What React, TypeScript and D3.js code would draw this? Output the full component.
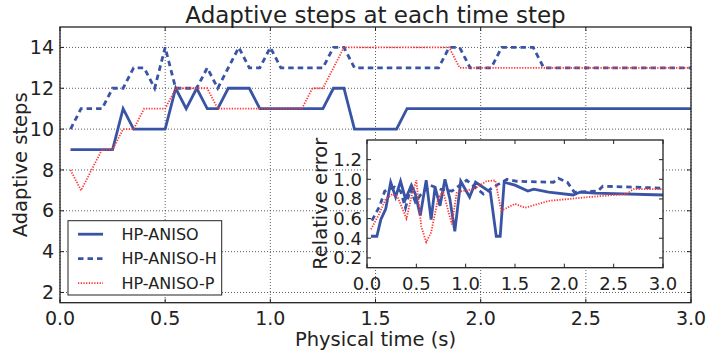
import React from "react";
import * as d3 from "d3";

const W = 709;
const H = 353;

// Adaptive steps per time step (main axes), breakpoints of each series
const anisoT = [0.05, 0.25, 0.3, 0.35, 0.5, 0.55, 0.6, 0.65, 0.7, 0.75, 0.8, 0.9, 0.95, 1.25, 1.3, 1.35, 1.4, 1.6, 1.65, 3.0];
const anisoV = [9, 9, 11, 10, 10, 12, 11, 12, 11, 11, 12, 12, 11, 11, 12, 12, 10, 10, 11, 11];

const anisoHT = [0.05, 0.1, 0.2, 0.25, 0.3, 0.35, 0.4, 0.45, 0.5, 0.55, 0.65, 0.7, 0.75, 0.85, 0.9, 0.95, 1.0, 1.05, 1.25, 1.3, 1.35, 1.4, 1.8, 1.85, 1.9, 1.95, 2.05, 2.1, 2.25, 2.3, 3.0];
const anisoHV = [10, 11, 11, 12, 12, 13, 13, 12, 14, 12, 12, 13, 12, 14, 13, 13, 14, 13, 13, 14, 14, 13, 13, 14, 14, 13, 13, 14, 14, 13, 13];

const anisoPT = [0.05, 0.1, 0.15, 0.2, 0.25, 0.3, 0.35, 0.4, 0.5, 0.55, 0.7, 0.75, 1.15, 1.2, 1.25, 1.3, 1.35, 1.85, 1.9, 3.0];
const anisoPV = [8, 7, 8, 9, 9, 10, 10, 11, 11, 12, 12, 11, 11, 12, 12, 13, 14, 14, 13, 13];

// Relative error (inset axes)
const errT = [0.04, 0.1, 0.14, 0.19, 0.24, 0.29, 0.34, 0.39, 0.45, 0.49, 0.54, 0.6, 0.65, 0.69, 0.74, 0.79, 0.84, 0.89, 0.95, 1.04, 1.1, 1.25, 1.31, 1.35, 1.39, 1.5, 1.63, 1.69, 1.84, 2.09, 2.16, 2.31, 3.0];
const errV = [0.42, 0.42, 0.59, 0.7, 0.97, 0.82, 0.98, 0.8, 0.94, 0.85, 0.63, 0.99, 0.59, 0.92, 0.73, 1.0, 0.8, 0.47, 0.98, 0.82, 0.97, 0.87, 0.42, 0.42, 0.97, 0.94, 0.88, 0.9, 0.87, 0.84, 0.87, 0.86, 0.84];

const errHT = [0.05, 0.13, 0.18, 0.28, 0.34, 0.39, 0.44, 0.49, 0.55, 0.64, 0.74, 0.86, 1.01, 1.18, 1.28, 1.42, 1.52, 1.89, 1.94, 2.03, 2.1, 2.14, 2.34, 2.39, 3.0];
const errHV = [0.58, 0.73, 0.88, 0.92, 0.88, 0.71, 0.9, 0.77, 0.85, 0.94, 0.9, 0.88, 0.99, 0.85, 0.92, 1.0, 0.98, 0.97, 1.01, 0.97, 0.87, 0.87, 0.88, 0.93, 0.91];

const errPT = [0.04, 0.12, 0.19, 0.26, 0.31, 0.4, 0.45, 0.5, 0.55, 0.6, 0.65, 0.72, 0.77, 0.86, 0.91, 1.08, 1.21, 1.3, 1.36, 1.5, 1.6, 1.84, 2.26, 2.63, 2.7, 3.0];
const errPV = [0.49, 0.64, 0.8, 0.85, 0.82, 0.6, 0.82, 0.99, 0.52, 0.36, 0.46, 0.8, 0.88, 0.54, 0.87, 0.9, 0.98, 0.99, 0.68, 0.75, 0.71, 0.78, 0.82, 0.85, 0.9, 0.9];

const xTicks = [0, 0.5, 1.0, 1.5, 2.0, 2.5, 3.0];
const yTicks = [2, 4, 6, 8, 10, 12, 14];
const insetYTicks = [0.2, 0.4, 0.6, 0.8, 1.0, 1.2];

const seriesNames = ["HP-ANISO", "HP-ANISO-H", "HP-ANISO-P"];

const BLUE = "#3a54a5";
const RED = "#ff3636";
const FONT = "DejaVu Sans, sans-serif";

const styles = [
  { stroke: BLUE, width: 2.8, dash: undefined as string | undefined },
  { stroke: BLUE, width: 2.8, dash: "5.5,4" },
  { stroke: RED, width: 1.8, dash: "1.3,1.4" },
];

function zip(t: number[], v: number[]): [number, number][] {
  return t.map((d, i) => [d, v[i]]);
}

export default function App() {
  const m = { l: 60, r: 691, t: 27, b: 302.7 };
  const x = d3.scaleLinear().domain([0, 3]).range([m.l, m.r]);
  const y = d3.scaleLinear().domain([1.5, 15]).range([m.b, m.t]);

  const ins = { l: 367, r: 663, t: 140, b: 267.7 };
  const ix = d3.scaleLinear().domain([0, 3]).range([ins.l, ins.r]);
  const iy = d3.scaleLinear().domain([0.1, 1.4]).range([ins.b, ins.t]);

  const line = d3.line<[number, number]>().x((d) => x(d[0])).y((d) => y(d[1]));
  const iline = d3.line<[number, number]>().x((d) => ix(d[0])).y((d) => iy(d[1]));

  const mainSeries = [zip(anisoT, anisoV), zip(anisoHT, anisoHV), zip(anisoPT, anisoPV)];
  const insetSeries = [zip(errT, errV), zip(errHT, errHV), zip(errPT, errPV)];

  const tickLen = 4;
  const legend = { x: 68, y: 220.7, w: 153.7, h: 74.3 };

  return (
    <svg
      width={W}
      height={H}
      viewBox={`0 0 ${W} ${H}`}
      style={{ position: "absolute", left: 0, top: 0, background: "#fff" }}
      fontFamily={FONT}
    >
      <rect x={0} y={0} width={W} height={H} fill="#fff" />

      {/* grid */}
      <g stroke="#333" strokeWidth={0.8} strokeDasharray="1,2">
        {xTicks.map((t) => (
          <line key={"gx" + t} x1={x(t)} x2={x(t)} y1={m.t} y2={m.b} />
        ))}
        {yTicks.map((t) => (
          <line key={"gy" + t} x1={m.l} x2={m.r} y1={y(t)} y2={y(t)} />
        ))}
      </g>

      {/* series */}
      <g fill="none">
        {mainSeries.map((s, i) => (
          <path
            key={"s" + i}
            d={line(s) || ""}
            stroke={styles[i].stroke}
            strokeWidth={styles[i].width}
            strokeDasharray={styles[i].dash}
          />
        ))}
      </g>

      {/* main ticks */}
      <g stroke="#222" strokeWidth={1}>
        {xTicks.map((t) => (
          <g key={"tx" + t}>
            <line x1={x(t)} x2={x(t)} y1={m.b} y2={m.b - tickLen} />
            <line x1={x(t)} x2={x(t)} y1={m.t} y2={m.t + tickLen} />
          </g>
        ))}
        {yTicks.map((t) => (
          <g key={"ty" + t}>
            <line x1={m.l} x2={m.l + tickLen} y1={y(t)} y2={y(t)} />
            <line x1={m.r} x2={m.r - tickLen} y1={y(t)} y2={y(t)} />
          </g>
        ))}
      </g>
      <rect x={m.l} y={m.t} width={m.r - m.l} height={m.b - m.t} fill="none" stroke="#222" strokeWidth={1.3} />

      {/* main tick labels */}
      <g fontSize={19} fill="#222">
        {xTicks.map((t) => (
          <text key={"lx" + t} x={x(t)} y={m.b + 22.5} textAnchor="middle">
            {t.toFixed(1)}
          </text>
        ))}
        {yTicks.map((t) => (
          <text key={"ly" + t} x={m.l - 6} y={y(t) + 6.6} textAnchor="end">
            {t}
          </text>
        ))}
      </g>

      {/* title and axis labels */}
      <text x={(m.l + m.r) / 2} y={23} textAnchor="middle" fontSize={23} fill="#222">
        Adaptive steps at each time step
      </text>
      <text x={(m.l + m.r) / 2} y={345.5} textAnchor="middle" fontSize={19.5} fill="#222">
        Physical time (s)
      </text>
      <text
        transform={`translate(26.5,${(m.t + m.b) / 2}) rotate(-90)`}
        textAnchor="middle"
        fontSize={19.5}
        fill="#222"
      >
        Adaptive steps
      </text>

      {/* legend */}
      <rect x={legend.x} y={legend.y} width={legend.w} height={legend.h} fill="#fff" stroke="#222" strokeWidth={1} />
      {seriesNames.map((n, i) => {
        const cy = legend.y + 13.5 + i * 24.5;
        return (
          <g key={"lg" + i}>
            <line
              x1={78}
              x2={103}
              y1={cy}
              y2={cy}
              stroke={styles[i].stroke}
              strokeWidth={styles[i].width}
              strokeDasharray={styles[i].dash}
            />
            <text x={121.5} y={cy + 5.7} fontSize={16} fill="#222">
              {n}
            </text>
          </g>
        );
      })}

      {/* inset */}
      <rect x={ins.l} y={ins.t} width={ins.r - ins.l} height={ins.b - ins.t} fill="#fff" />
      <g fill="none">
        {insetSeries.map((s, i) => (
          <path
            key={"is" + i}
            d={iline(s) || ""}
            stroke={styles[i].stroke}
            strokeWidth={styles[i].width}
            strokeDasharray={styles[i].dash}
          />
        ))}
      </g>
      <g stroke="#222" strokeWidth={1}>
        {xTicks.map((t) => (
          <g key={"itx" + t}>
            <line x1={ix(t)} x2={ix(t)} y1={ins.b} y2={ins.b - tickLen} />
            <line x1={ix(t)} x2={ix(t)} y1={ins.t} y2={ins.t + tickLen} />
          </g>
        ))}
        {insetYTicks.map((t) => (
          <g key={"ity" + t}>
            <line x1={ins.l} x2={ins.l + tickLen} y1={iy(t)} y2={iy(t)} />
            <line x1={ins.r} x2={ins.r - tickLen} y1={iy(t)} y2={iy(t)} />
          </g>
        ))}
      </g>
      <rect x={ins.l} y={ins.t} width={ins.r - ins.l} height={ins.b - ins.t} fill="none" stroke="#222" strokeWidth={1.3} />
      <g fontSize={18} fill="#222">
        {xTicks.map((t) => (
          <text key={"ilx" + t} x={ix(t)} y={ins.b + 22} textAnchor="middle">
            {t.toFixed(1)}
          </text>
        ))}
        {insetYTicks.map((t) => (
          <text key={"ily" + t} x={ins.l - 5} y={iy(t) + 6.4} textAnchor="end">
            {t.toFixed(1)}
          </text>
        ))}
      </g>
      <text
        transform={`translate(327,${(ins.t + ins.b) / 2}) rotate(-90)`}
        textAnchor="middle"
        fontSize={19.5}
        fill="#222"
      >
        Relative error
      </text>
    </svg>
  );
}
